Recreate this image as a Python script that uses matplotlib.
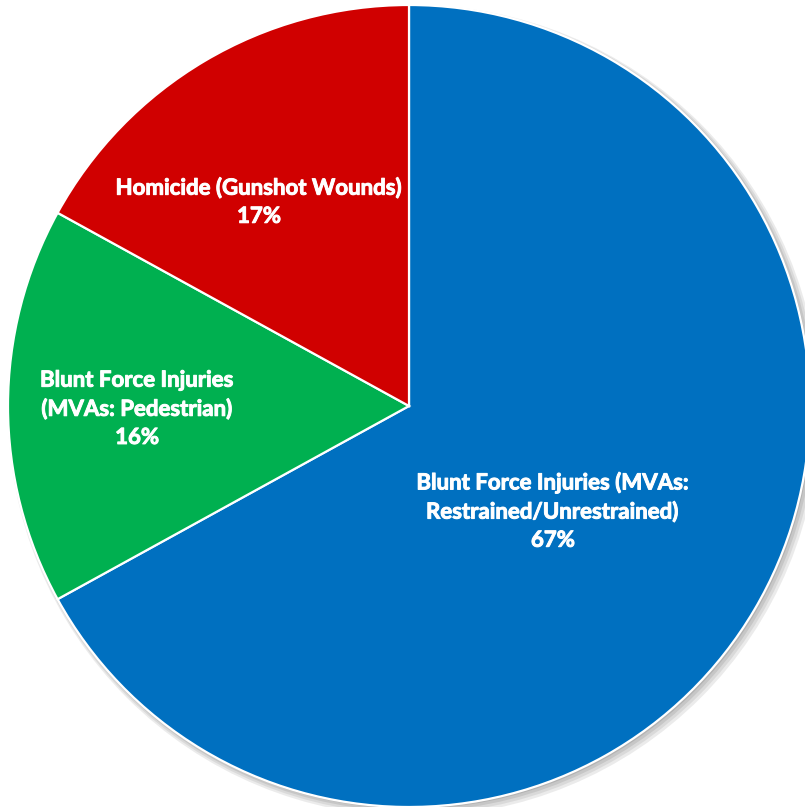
import matplotlib.pyplot as plt
import matplotlib.patheffects as pe
from matplotlib.patches import Circle

# Causes of death, share of cases
labels = ['Blunt Force Injuries (MVAs:\nRestrained/Unrestrained)',
          'Blunt Force Injuries\n(MVAs: Pedestrian)',
          'Homicide (Gunshot Wounds)']
shares = [67, 16, 17]
colors = ['#0070C0', '#00B050', '#D00000']

# where each label sits inside its slice (pie radius = 1)
label_pos = [(0.359, -0.262), (-0.678, -0.007), (-0.374, 0.509)]

fig = plt.figure(figsize=(8.05, 8.11), dpi=100)
ax = fig.add_axes([8 / 805, 4 / 811, 802 / 805, 802 / 811])

# soft drop shadow toward the bottom right
for i, a in enumerate([0.10, 0.10, 0.12, 0.15]):
    off = 0.012 - i * 0.0025
    ax.add_patch(Circle((off, -off), 1.0 + 0.004 * (3 - i), color='#404040',
                        alpha=a, lw=0, zorder=0))

wedges, _ = ax.pie(shares, colors=colors, startangle=90, counterclock=False,
                   radius=1.0, wedgeprops=dict(edgecolor='white', linewidth=1.6))
for w in wedges:
    w.set_zorder(2)

for lab, val, (x, y) in zip(labels, shares, label_pos):
    ax.text(x, y, f'{lab}\n{val}%', ha='center', va='center', color='white',
            fontsize=16, fontweight='bold', family='Lato', linespacing=1.42,
            zorder=3,
            path_effects=[pe.withStroke(linewidth=0.7, foreground='white')])

ax.set_xlim(-1, 1)
ax.set_ylim(-1, 1)
ax.set_aspect('equal')
ax.axis('off')

fig.savefig('out.png', dpi=100)
